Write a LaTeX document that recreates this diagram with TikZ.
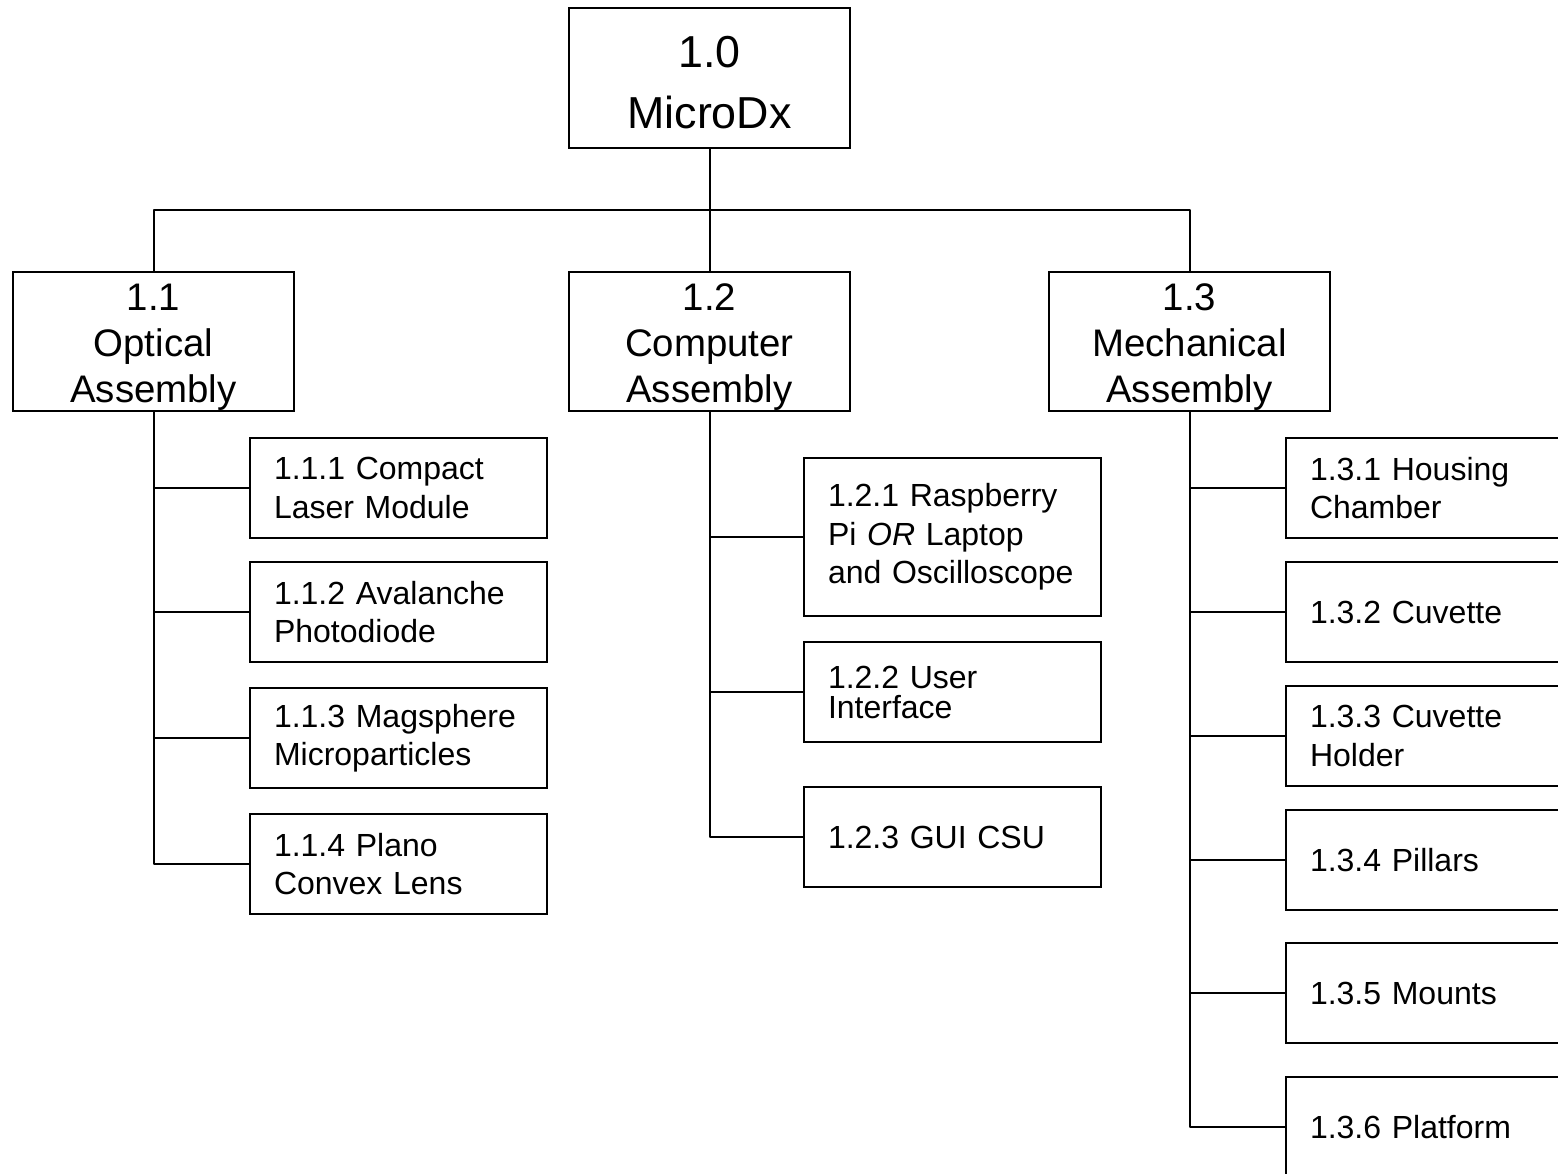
\documentclass[tikz,border=0pt]{standalone}
\usepackage{fontspec}
\setmainfont{Liberation Sans}
\usetikzlibrary{positioning,calc}
\newcommand\rootstrut{\rule{0pt}{41pt}}
\newcommand\asmstrut{\rule{0pt}{38.5pt}}
\tikzset{
  rootbox/.style={draw, line width=2pt, minimum width=281pt, minimum height=140pt, align=center,
                  inner sep=0pt, font=\fontsize{44.8}{61}\selectfont},
  asmbox/.style={draw, line width=2pt, minimum width=281pt, minimum height=139pt, align=center,
                 inner sep=0pt, font=\fontsize{38.4}{46}\selectfont},
  partbox/.style={draw, line width=2pt, minimum height=100pt, text width=249pt, inner xsep=24pt,
                  align=left, font=\fontsize{32}{38.5}\selectfont},
  wire/.style={line width=2pt, line join=round},
}
\begin{document}
\begin{tikzpicture}[x=1pt, y=-1pt]
    \useasboundingbox (0,0) rectangle (1558,1174);
    \clip (0,0) rectangle (1558,1174);
    \node[rootbox] (root) at (709.5,78) {\rootstrut1.0\\MicroDx};
    \node[asmbox, below=122pt of root] (comp) {\asmstrut1.2\\Computer\\Assembly};
    \node[asmbox, left=273pt of comp] (opt) {\asmstrut1.1\\Optical\\Assembly};
    \node[asmbox, right=197pt of comp] (mech) {\asmstrut1.3\\Mechanical\\Assembly};

    \node[partbox, anchor=north west] (oa1) at (249,437) {1.1.1 Compact\\Laser Module};
    \node[partbox, below=22pt of oa1] (oa2) {1.1.2 Avalanche\\Photodiode};
    \node[partbox, below=24pt of oa2] (oa3) {1.1.3 Magsphere\\Microparticles};
    \node[partbox, below=24pt of oa3] (oa4) {1.1.4 Plano\\Convex Lens};

    \node[partbox, anchor=north west, minimum height=158pt] (ca1) at (803,457) {1.2.1 Raspberry\\Pi \textit{OR} Laptop\\and Oscilloscope};
    \node[partbox, below=24pt of ca1, font=\fontsize{32}{30}\selectfont] (ca2) {1.2.2 User\\Interface};
    \node[partbox, below=43pt of ca2] (ca3) {1.2.3 GUI CSU};

    \node[partbox, anchor=north west] (ma1) at (1285,437) {1.3.1 Housing\\Chamber};
    \node[partbox, below=22pt of ma1] (ma2) {1.3.2 Cuvette};
    \node[partbox, below=22pt of ma2] (ma3) {1.3.3 Cuvette\\Holder};
    \node[partbox, below=22pt of ma3] (ma4) {1.3.4 Pillars};
    \node[partbox, below=31pt of ma4] (ma5) {1.3.5 Mounts};
    \node[partbox, below=32pt of ma5] (ma6) {1.3.6 Platform};

    \coordinate (bus) at ($(root.south)!0.5!(comp.north)$);
    \draw[wire] (root) -- (comp); \draw[wire] (opt) |- (bus) -| (mech);
    \draw[wire] (opt) |- (oa4); \draw[wire] (oa1) -- (oa1 -| opt); \draw[wire] (oa2) -- (oa2 -| opt); \draw[wire] (oa3) -- (oa3 -| opt);
    \draw[wire] (comp) |- (ca3); \draw[wire] (ca1) -- (ca1 -| comp); \draw[wire] (ca2) -- (ca2 -| comp);
    \draw[wire] (mech) |- (ma6); \draw[wire] (ma1) -- (ma1 -| mech); \draw[wire] (ma2) -- (ma2 -| mech);
    \draw[wire] (ma3) -- (ma3 -| mech); \draw[wire] (ma4) -- (ma4 -| mech); \draw[wire] (ma5) -- (ma5 -| mech);
\end{tikzpicture}
\end{document}
